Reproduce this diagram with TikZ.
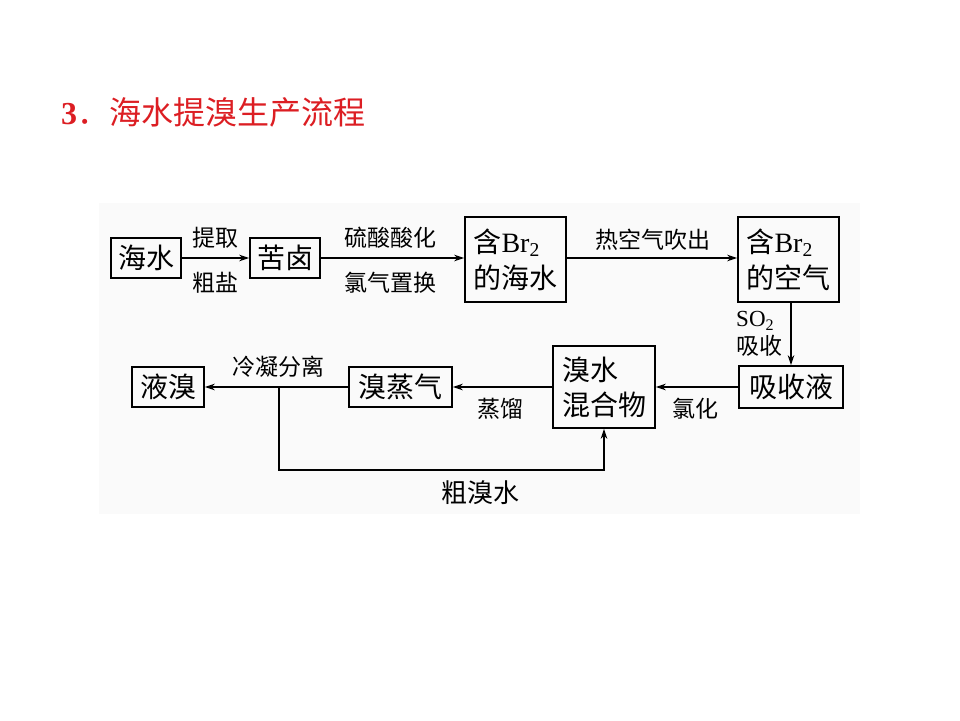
\documentclass[tikz,border=0pt]{standalone}
\usepackage{fontspec}
\setmainfont{Liberation Serif}
\newfontfamily\cjk{Noto Sans CJK SC}
\usetikzlibrary{arrows.meta,positioning,calc}
\definecolor{TitleRed}{HTML}{DC1E23}
\definecolor{PanelGrey}{HTML}{FAFAFA}
\newcommand{\brtwo}{{\rmfamily Br\textsubscript{2}}}

\begin{document}
\begin{tikzpicture}[x=1pt,y=-1pt,line cap=butt,line join=miter,
  stage/.style={draw,line width=1.6pt,inner sep=0pt,font=\cjk\fontsize{28}{32}\selectfont},
  step label/.style={font=\cjk\fontsize{23}{28}\selectfont,inner sep=0pt},
  flow/.style={line width=1.3pt,-{Stealth[length=10pt,width=6.5pt]}}]
  \useasboundingbox (0,0) rectangle (960,720);
  \fill[PanelGrey] (99,203) rectangle (860,514);
  % title
  \node[anchor=west,text=TitleRed,inner sep=0pt,font=\cjk\fontsize{32}{36}\selectfont] (title) at (61,112) {{\rmfamily\bfseries 3}．海水提溴生产流程};
  % upper row
  \node[stage,minimum width=70,minimum height=40] (haishui) at (146,258) {海水};
  \node[stage,minimum width=70,minimum height=40] (kulu) at (285,258) {苦卤};
  \node[stage,minimum width=101,minimum height=85,align=left] (brsea) at (515.5,259.5) {含\brtwo\\[4pt]的海水};
  \node[stage,minimum width=101,minimum height=85,align=left] (brair) at (788.5,259.5) {含\brtwo\\[4pt]的空气};
  % lower row
  \node[stage,minimum width=104,minimum height=42] (absorb) at (791,387) {吸收液};
  \node[stage,minimum width=102,minimum height=82,align=left] (mixture) at (604,387) {溴水\\[3pt]混合物};
  \node[stage,minimum width=103,minimum height=40] (vapour) at (400.5,387) {溴蒸气};
  \node[stage,minimum width=72,minimum height=40] (liquid) at (168,387) {液溴};
  % connectors
  \draw[flow] (haishui) -- (kulu);
  \draw[flow] (kulu) -- (kulu -| brsea.west);
  \draw[flow] (brsea.east |- kulu) -- (brair.west |- kulu);
  \draw[flow] (absorb.north |- brair.south) -- (absorb.north);
  \draw[flow] (absorb) -- (mixture);
  \draw[flow] (mixture) -- (vapour);
  \draw[flow] (vapour) -- (liquid);
  \coordinate (fork) at (279,387);
  \coordinate (low) at (279,470);
  \draw[flow] (fork) -- (low) -| (mixture.south);
  % labels
  \node[step label] (tiqu) at (215,238) {提取};
  \node[step label] (cuyan) at (215,283) {粗盐};
  \node[step label] (suanhua) at (390,238) {硫酸酸化};
  \node[step label] (zhihuan) at (390,283) {氯气置换};
  \node[step label] (chuichu) at (653,240) {热空气吹出};
  \node[step label,anchor=west,align=left] (so2) at (736,334) {{\rmfamily SO\textsubscript{2}}\\[0pt]吸收};
  \node[step label] (lvhua) at (695,409) {氯化};
  \node[step label] (zhengliu) at (500,409) {蒸馏};
  \node[step label] (lengning) at (278,367) {冷凝分离};
  \node[step label,font=\cjk\fontsize{26}{30}\selectfont] (cuxiu) at (480,493) {粗溴水};
\end{tikzpicture}
\end{document}
